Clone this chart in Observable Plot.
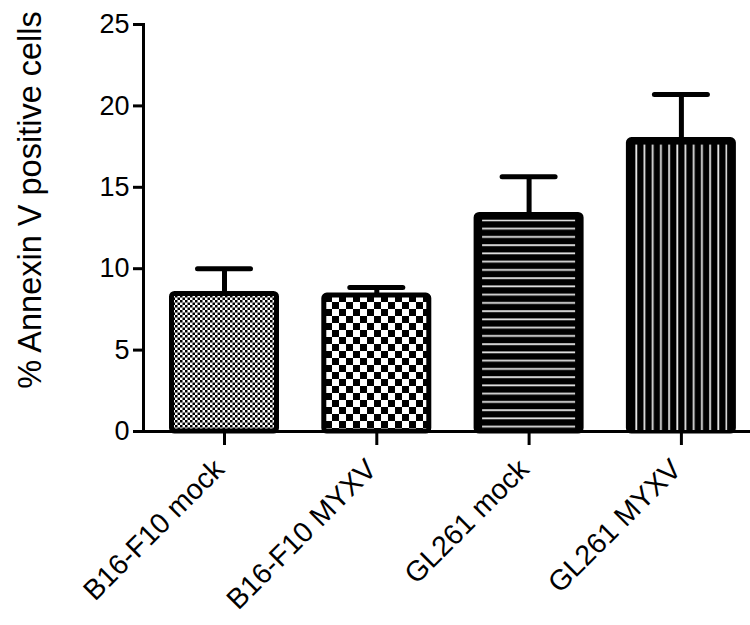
<!DOCTYPE html>
<html>
<head>
<meta charset="utf-8">
<script src="https://cdn.jsdelivr.net/npm/d3@7"></script>
<script src="https://cdn.jsdelivr.net/npm/@observablehq/plot@0.6"></script>
<style>
  html, body { margin: 0; padding: 0; background: #fff; }
  svg { display: block; }
</style>
</head>
<body>
<div id="chart"></div>
<script>
const categories = ["B16-F10 mock", "B16-F10 MYXV", "GL261 mock", "GL261 MYXV"];
const means = [8.45, 8.35, 13.3, 17.9];
const errors = [1.55, 0.5, 2.35, 2.8];
const yTicks = [0, 5, 10, 15, 20, 25];
const yLabel = "% Annexin V positive cells";
const patternIds = ["pat-fine", "pat-checker", "pat-hstripe", "pat-vstripe"];
const striped = [false, false, true, true];

const data = categories.map((c, i) => ({
  cat: c, mean: means[i], top: means[i] + errors[i], fill: `url(#${patternIds[i]})`, striped: striped[i]
}));

const font = "'Liberation Sans', Arial, Helvetica, sans-serif";

const chart = Plot.plot({
  width: 750,
  height: 625,
  marginLeft: 143,
  marginRight: 0,
  marginTop: 24,
  marginBottom: 194,
  style: { fontFamily: font, fontSize: "27px", color: "black", background: "white" },
  x: { type: "band", domain: categories, range: [124.2, 780.7], padding: 0.3106, round: false },
  y: { domain: [0, 25] },
  color: { type: "identity" },
  marks: [
    Plot.ruleX(data, { x: "cat", y1: "mean", y2: "top", stroke: "black", strokeWidth: 5 }),
    Plot.tickY(data, { x: "cat", y: "top", stroke: "black", strokeWidth: 5, strokeLinecap: "round", insetLeft: 26, insetRight: 26 }),
    Plot.barY(data.filter(d => d.striped), { x: "cat", y: "mean", fill: "black", stroke: "black", strokeWidth: 5, rx: 3 }),
    Plot.barY(data.filter(d => !d.striped), { x: "cat", y: "mean", fill: "fill", stroke: "black", strokeWidth: 5, rx: 3 }),
    Plot.barY(data.filter(d => d.striped), { x: "cat", y: "mean", fill: "fill", insetLeft: 6, insetRight: 6, insetTop: 5 }),
    Plot.ruleY([0], { stroke: "black", strokeWidth: 3 }),
    Plot.frame({ anchor: "left", stroke: "black", strokeWidth: 3 }),
    Plot.axisY({ ticks: yTicks, tickSize: 10, tickPadding: 4, strokeWidth: 3, fontSize: 27, label: null, fill: "black" }),
    Plot.axisX({ tickSize: 14, strokeWidth: 3, tickFormat: () => "", label: null }),
    Plot.axisX({ tickSize: 0, tickPadding: 33, tickRotate: -45, fontSize: 28.5, label: null, fill: "black", dx: -5 }),
    Plot.text([yLabel], { text: d => d, frameAnchor: "left", textAnchor: "middle", lineAnchor: "middle", rotate: -90, dx: -113, dy: -28, fontSize: 32.5, fill: "black" })
  ]
});

const svg = d3.select(chart);
const defs = svg.insert("defs", ":first-child");

const p0 = defs.append("pattern").attr("id", patternIds[0]).attr("patternUnits", "userSpaceOnUse")
  .attr("width", 5).attr("height", 5);
p0.append("rect").attr("width", 5).attr("height", 5).attr("fill", "white");
p0.append("rect").attr("width", 2.5).attr("height", 2.5).attr("fill", "black");
p0.append("rect").attr("x", 2.5).attr("y", 2.5).attr("width", 2.5).attr("height", 2.5).attr("fill", "black");

const p1 = defs.append("pattern").attr("id", patternIds[1]).attr("patternUnits", "userSpaceOnUse")
  .attr("width", 14).attr("height", 14).attr("x", 3).attr("y", 1);
p1.append("rect").attr("width", 14).attr("height", 14).attr("fill", "white");
p1.append("rect").attr("width", 7).attr("height", 7).attr("fill", "black");
p1.append("rect").attr("x", 7).attr("y", 7).attr("width", 7).attr("height", 7).attr("fill", "black");

const p2 = defs.append("pattern").attr("id", patternIds[2]).attr("patternUnits", "userSpaceOnUse")
  .attr("width", 10).attr("height", 8.25).attr("y", 2);
p2.append("rect").attr("width", 10).attr("height", 8.25).attr("fill", "black");
p2.append("rect").attr("y", 3).attr("width", 10).attr("height", 1.8).attr("fill", "#e6e6e6");

const p3 = defs.append("pattern").attr("id", patternIds[3]).attr("patternUnits", "userSpaceOnUse")
  .attr("width", 8.2).attr("height", 10).attr("x", 1);
p3.append("rect").attr("width", 8.2).attr("height", 10).attr("fill", "black");
p3.append("rect").attr("x", 3).attr("width", 1.8).attr("height", 10).attr("fill", "#e6e6e6");

document.getElementById("chart").appendChild(chart);
</script>
</body>
</html>
